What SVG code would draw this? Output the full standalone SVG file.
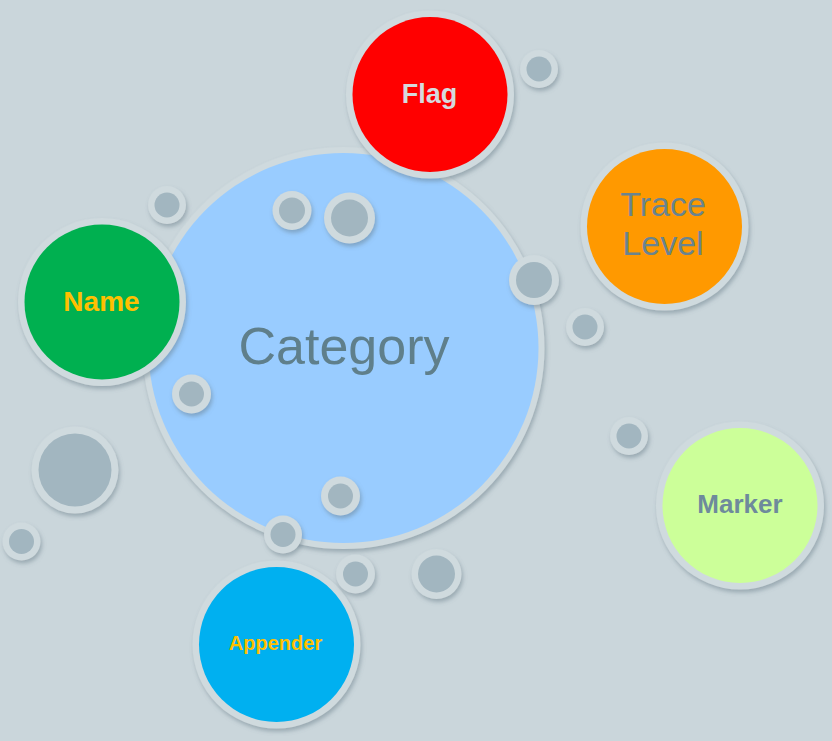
<svg xmlns="http://www.w3.org/2000/svg" width="832" height="741" viewBox="0 0 832 741">
<defs>
<filter id="sh" x="-20%" y="-20%" width="140%" height="150%">
<feDropShadow dx="1.5" dy="3" stdDeviation="2" flood-color="#5f7480" flood-opacity="0.45"/>
</filter>
<style>
.ring{fill:#CFDADE;filter:url(#sh)}
.dot{fill:#A2B6C0}
.lbl{font-family:"Liberation Sans",Arial,sans-serif;text-anchor:middle}
.b{font-weight:bold}
</style>
</defs>
<rect width="832" height="741" fill="#CAD6DB"/>
<g id="category">
<circle class="ring" cx="343.5" cy="348" r="201"/>
<circle cx="343.5" cy="348" r="195" fill="#99CCFF"/>
<text class="lbl" x="344" y="364" font-size="52" fill="#5F7F8B">Category</text>
</g>
<g id="flag">
<circle class="ring" cx="430" cy="94.5" r="84"/>
<circle cx="430" cy="94.5" r="77.5" fill="#FF0000"/>
<text class="lbl b" x="429.5" y="103" font-size="27" fill="#D6DADD">Flag</text>
</g>
<g id="trace-level">
<circle class="ring" cx="664.5" cy="226.5" r="84"/>
<circle cx="664.5" cy="226.5" r="77.5" fill="#FF9900"/>
<text class="lbl" x="663" y="216" font-size="34" fill="#6A848F">Trace</text>
<text class="lbl" x="663" y="255" font-size="34" fill="#6A848F">Level</text>
</g>
<g id="name">
<circle class="ring" cx="102" cy="302" r="84"/>
<circle cx="102" cy="302" r="77.5" fill="#00B050"/>
<text class="lbl b" x="101.5" y="311" font-size="28" fill="#FFC000">Name</text>
</g>
<g id="marker">
<circle class="ring" cx="740" cy="505.5" r="84"/>
<circle cx="740" cy="505.5" r="77.5" fill="#CCFF99"/>
<text class="lbl b" x="740" y="513" font-size="26" fill="#6E8A9C">Marker</text>
</g>
<g id="appender">
<circle class="ring" cx="276.5" cy="644.5" r="84"/>
<circle cx="276.5" cy="644.5" r="77.5" fill="#00B0F0"/>
<text class="lbl b" x="275.5" y="650" font-size="20" fill="#FFC000">Appender</text>
</g>
<g id="bubble-1"><circle class="ring" cx="539" cy="69" r="19"/><circle class="dot" cx="539" cy="69" r="12.5"/></g>
<g id="bubble-2"><circle class="ring" cx="167" cy="205" r="19"/><circle class="dot" cx="167" cy="205" r="12.5"/></g>
<g id="bubble-3"><circle class="ring" cx="292" cy="210.5" r="19.5"/><circle class="dot" cx="292" cy="210.5" r="13"/></g>
<g id="bubble-4"><circle class="ring" cx="349.5" cy="218" r="25.5"/><circle class="dot" cx="349.5" cy="218" r="18.5"/></g>
<g id="bubble-5"><circle class="ring" cx="534" cy="280" r="25"/><circle class="dot" cx="534" cy="280" r="18"/></g>
<g id="bubble-6"><circle class="ring" cx="585" cy="327" r="19"/><circle class="dot" cx="585" cy="327" r="12.5"/></g>
<g id="bubble-7"><circle class="ring" cx="629" cy="436" r="19"/><circle class="dot" cx="629" cy="436" r="12.5"/></g>
<g id="bubble-8"><circle class="ring" cx="191.5" cy="394" r="19.5"/><circle class="dot" cx="191.5" cy="394" r="12.5"/></g>
<g id="bubble-9"><circle class="ring" cx="75" cy="470" r="43.5"/><circle class="dot" cx="75" cy="470" r="36.5"/></g>
<g id="bubble-10"><circle class="ring" cx="21.5" cy="541.5" r="19"/><circle class="dot" cx="21.5" cy="541.5" r="12.5"/></g>
<g id="bubble-11"><circle class="ring" cx="340.5" cy="496" r="19.5"/><circle class="dot" cx="340.5" cy="496" r="12.5"/></g>
<g id="bubble-12"><circle class="ring" cx="283" cy="534.5" r="19"/><circle class="dot" cx="283" cy="534.5" r="12.5"/></g>
<g id="bubble-13"><circle class="ring" cx="355.5" cy="574" r="19.5"/><circle class="dot" cx="355.5" cy="574" r="12.5"/></g>
<g id="bubble-14"><circle class="ring" cx="436.5" cy="574" r="25"/><circle class="dot" cx="436.5" cy="574" r="18.5"/></g>
</svg>
